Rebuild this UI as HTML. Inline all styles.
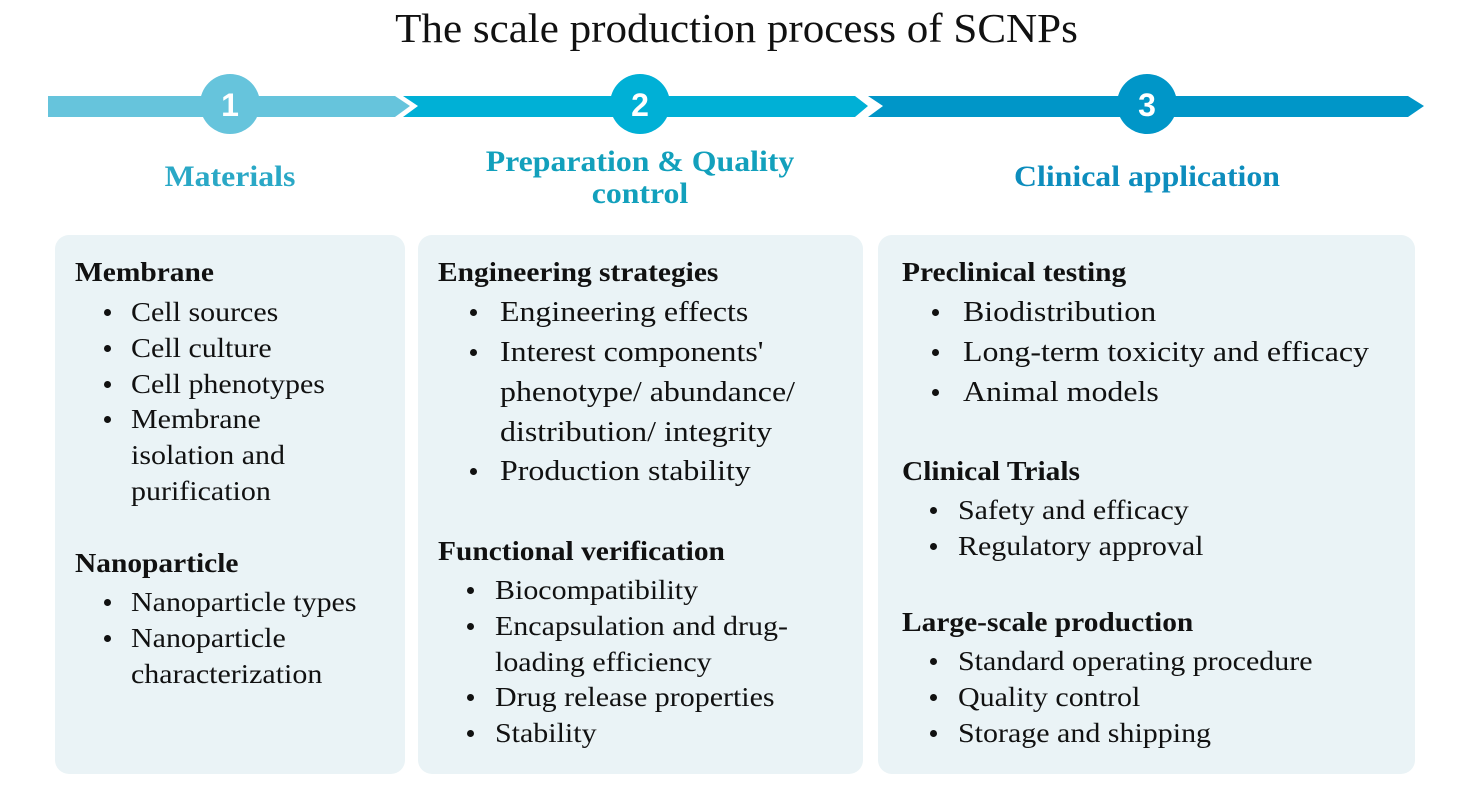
<!DOCTYPE html>
<html><head><meta charset="utf-8"><style>
body{margin:0;width:1473px;height:790px;background:#fff;position:relative;overflow:hidden;font-family:"Liberation Serif",serif;}
.a{position:absolute;white-space:nowrap;transform-origin:0 50%;}
.t{position:absolute;left:0;width:1473px;top:4px;text-align:center;font-size:41px;color:#111;transform:scaleX(1.05);}
.box{position:absolute;top:235px;height:539px;background:#eaf3f6;border-radius:14px;}
.h{font-weight:bold;font-size:27px;color:#111;line-height:36px;transform:scaleX(1.09);}
.i{font-size:27px;color:#111;line-height:36px;transform:scaleX(1.11);}
.i2{font-size:29px;color:#111;line-height:40px;transform:scaleX(1.1);}
.hd{font-weight:bold;font-size:30px;text-align:center;line-height:32px;position:absolute;transform:scaleX(1.06);}
.dot{position:absolute;width:7px;height:7px;border-radius:50%;background:#111;}
</style></head><body>
<div class="t">The scale production process of SCNPs</div>
<svg style="position:absolute;left:0;top:0" width="1473" height="150">
<polygon points="48,96 395,96 410,106 395,117 48,117" fill="#66c4dc"/>
<polygon points="403,96 855,96 868,106 855,117 403,117 418,106" fill="#00b0d6"/>
<polygon points="868,96 1408,96 1424,106 1408,117 868,117 883,106" fill="#0096c8"/>
<circle cx="230" cy="104" r="30" fill="#66c4dc"/>
<circle cx="640" cy="104" r="30" fill="#00b0d6"/>
<circle cx="1147" cy="104" r="30" fill="#0096c8"/>
<text x="230" y="116" text-anchor="middle" font-family="Liberation Sans" font-weight="bold" font-size="32" fill="#fff">1</text>
<text x="640" y="116" text-anchor="middle" font-family="Liberation Sans" font-weight="bold" font-size="32" fill="#fff">2</text>
<text x="1147" y="116" text-anchor="middle" font-family="Liberation Sans" font-weight="bold" font-size="32" fill="#fff">3</text>
</svg>
<div class="hd" style="left:80px;width:300px;top:161px;color:#2aa8c6">Materials</div>
<div class="hd" style="left:440px;width:400px;top:146px;color:#12a0bc">Preparation &amp; Quality<br>control</div>
<div class="hd" style="left:947px;width:400px;top:161px;color:#0d8dbd">Clinical application</div>
<div class="box" style="left:55px;width:350px"></div>
<div class="box" style="left:418px;width:445px"></div>
<div class="box" style="left:878px;width:537px"></div>

<div class="a h" style="left:75px;top:254px">Membrane</div>
<div class="a i" style="left:131px;top:294px">Cell sources</div><div class="dot" style="left:104px;top:309px"></div>
<div class="a i" style="left:131px;top:330px">Cell culture</div><div class="dot" style="left:104px;top:345px"></div>
<div class="a i" style="left:131px;top:366px">Cell phenotypes</div><div class="dot" style="left:104px;top:381px"></div>
<div class="a i" style="left:131px;top:401px">Membrane<br>isolation and<br>purification</div><div class="dot" style="left:104px;top:416px"></div>
<div class="a h" style="left:75px;top:545px">Nanoparticle</div>
<div class="a i" style="left:131px;top:584px">Nanoparticle types</div><div class="dot" style="left:104px;top:599px"></div>
<div class="a i" style="left:131px;top:620px">Nanoparticle<br>characterization</div><div class="dot" style="left:104px;top:635px"></div>

<div class="a h" style="left:438px;top:254px">Engineering strategies</div>
<div class="a i2" style="left:500px;top:292px">Engineering effects</div><div class="dot" style="left:470px;top:309px"></div>
<div class="a i2" style="left:500px;top:332px">Interest components'<br>phenotype/ abundance/<br>distribution/ integrity</div><div class="dot" style="left:470px;top:349px"></div>
<div class="a i2" style="left:500px;top:451px">Production stability</div><div class="dot" style="left:470px;top:468px"></div>
<div class="a h" style="left:438px;top:533px">Functional verification</div>
<div class="a i" style="left:495px;top:572px">Biocompatibility</div><div class="dot" style="left:467px;top:587px"></div>
<div class="a i" style="left:495px;top:608px">Encapsulation and drug-<br>loading efficiency</div><div class="dot" style="left:467px;top:623px"></div>
<div class="a i" style="left:495px;top:679px">Drug release properties</div><div class="dot" style="left:467px;top:694px"></div>
<div class="a i" style="left:495px;top:715px">Stability</div><div class="dot" style="left:467px;top:730px"></div>

<div class="a h" style="left:902px;top:254px">Preclinical testing</div>
<div class="a i2" style="left:963px;top:292px">Biodistribution</div><div class="dot" style="left:932px;top:309px"></div>
<div class="a i2" style="left:963px;top:332px">Long-term toxicity and efficacy</div><div class="dot" style="left:932px;top:349px"></div>
<div class="a i2" style="left:963px;top:372px">Animal models</div><div class="dot" style="left:932px;top:389px"></div>
<div class="a h" style="left:902px;top:453px">Clinical Trials</div>
<div class="a i" style="left:958px;top:492px">Safety and efficacy</div><div class="dot" style="left:930px;top:507px"></div>
<div class="a i" style="left:958px;top:528px">Regulatory approval</div><div class="dot" style="left:930px;top:543px"></div>
<div class="a h" style="left:902px;top:604px">Large-scale production</div>
<div class="a i" style="left:958px;top:643px">Standard operating procedure</div><div class="dot" style="left:930px;top:658px"></div>
<div class="a i" style="left:958px;top:679px">Quality control</div><div class="dot" style="left:930px;top:694px"></div>
<div class="a i" style="left:958px;top:715px">Storage and shipping</div><div class="dot" style="left:930px;top:730px"></div>
</body></html>
